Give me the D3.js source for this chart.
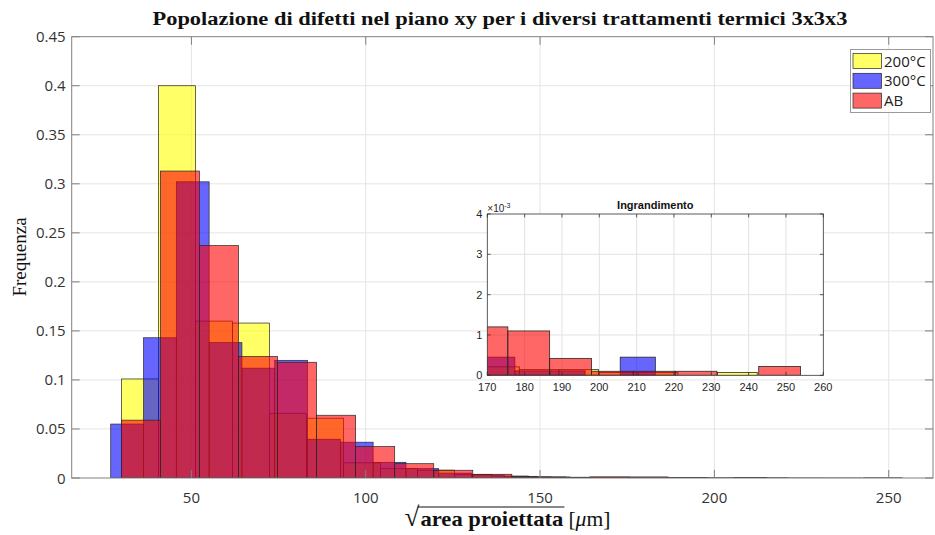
<!DOCTYPE html>
<html><head><meta charset="utf-8">
<script src="https://cdn.jsdelivr.net/npm/d3@7"></script>
<style>body{margin:0;background:#fff;} svg{display:block;}</style>
</head><body><svg id="c" width="935" height="535"></svg>
<script>
// ---------------- DATA ----------------
const titleText = "Popolazione di difetti nel piano xy per i diversi trattamenti termici 3x3x3";
const yLabelText = "Frequenza";
const insetTitle = "Ingrandimento";
const seriesNames = ["200°C", "300°C", "AB"];
const seriesColors = ["#ffff00", "#0000ff", "#ff0000"];
// histogram bins: first edge and bin width (µm) for each series
const yellowStart = 29.9, yellowWidth = 10.62;
const blueStart = 26.85, blueWidth = 9.408;
const redStart = 29.9, redWidth = 11.2;
// probability of each bin
const yellowValues = [0.101, 0.400, 0.160, 0.158, 0.066, 0.061, 0.0155, 0.0095, 0.008, 0.0035,
  0.002, 0.001, 0.0005, 0.00021, 0.00014, 0.00014, 0.00007, 0.00007, 0, 0.00007];
const blueValues = [0.055, 0.143, 0.302, 0.138, 0.112, 0.120, 0.0395, 0.0365, 0.016, 0.0095,
  0.005, 0.003, 0.0017, 0.001, 0.0006, 0.00045, 0.00011, 0.00011, 0, 0.00045];
const redValues = [0.059, 0.313, 0.237, 0.124, 0.118, 0.064, 0.032, 0.0146, 0.0079, 0.0038,
  0.0011, 0.0008, 0.0012, 0.0011, 0.00042, 0.0001, 0.0001, 0.0001, 0, 0.00022];
const xTicks = [50, 100, 150, 200, 250];
const yTicks = [0, 0.05, 0.1, 0.15, 0.2, 0.25, 0.3, 0.35, 0.4, 0.45];
const yTickLabels = ["0", "0.05", "0.1", "0.15", "0.2", "0.25", "0.3", "0.35", "0.4", "0.45"];
const insetXTicks = [170, 180, 190, 200, 210, 220, 230, 240, 250, 260];
const insetYTicks = [0, 0.001, 0.002, 0.003, 0.004];
const insetYTickLabels = ["0", "1", "2", "3", "4"];

// ---------------- CHART ----------------
const svg = d3.select("#c");
const serif = "'Liberation Serif','DejaVu Serif',serif";
const sans = "'Open Sans','Noto Sans',sans-serif";
const helv = "'Liberation Sans',Arial,sans-serif";

const series = [
  {start: yellowStart, width: yellowWidth, values: yellowValues, color: seriesColors[0]},
  {start: blueStart, width: blueWidth, values: blueValues, color: seriesColors[1]},
  {start: redStart, width: redWidth, values: redValues, color: seriesColors[2]}
];
function binsOf(s) {
  return s.values.map((v, i) => ({x0: s.start + i * s.width, x1: s.start + (i + 1) * s.width, v, color: s.color}))
    .filter(d => d.v > 0);
}

const L = 71.7, R = 933, T = 36.7, B = 478;
const x = d3.scaleLinear().domain([15.66, 262.7]).range([L, R]);
const y = d3.scaleLinear().domain([0, 0.45]).range([B, T]);

// grid
const grid = svg.append("g").attr("stroke", "#e4e4e4").attr("stroke-width", 1);
grid.selectAll(".gx").data(xTicks).join("line")
  .attr("x1", d => x(d)).attr("x2", d => x(d)).attr("y1", T).attr("y2", B);
grid.selectAll(".gy").data(yTicks.slice(1, -1)).join("line")
  .attr("y1", d => y(d)).attr("y2", d => y(d)).attr("x1", L).attr("x2", R);

// bars
svg.append("clipPath").attr("id", "mainclip").append("rect")
  .attr("x", L).attr("y", T).attr("width", R - L).attr("height", B - T);
const barsG = svg.append("g").attr("clip-path", "url(#mainclip)");
series.forEach(s => {
  barsG.append("g").selectAll("rect").data(binsOf(s)).join("rect")
    .attr("x", d => x(d.x0)).attr("width", d => x(d.x1) - x(d.x0))
    .attr("y", d => y(d.v)).attr("height", d => y(0) - y(d.v))
    .attr("fill", d => d.color).attr("fill-opacity", 0.6)
    .attr("stroke", "#262626").attr("stroke-width", 0.7);
});

// axes box + ticks
const axisColor = "#808080";
svg.append("rect").attr("x", L).attr("y", T).attr("width", R - L).attr("height", B - T)
  .attr("fill", "none").attr("stroke", axisColor).attr("stroke-width", 1);
const tk = svg.append("g").attr("stroke", axisColor).attr("stroke-width", 1);
tk.selectAll(".tb").data(xTicks).join("line").attr("x1", d => x(d)).attr("x2", d => x(d)).attr("y1", B).attr("y2", B - 8);
tk.selectAll(".tt").data(xTicks).join("line").attr("x1", d => x(d)).attr("x2", d => x(d)).attr("y1", T).attr("y2", T + 8);
tk.selectAll(".tl").data(yTicks).join("line").attr("y1", d => y(d)).attr("y2", d => y(d)).attr("x1", L).attr("x2", L + 8);
tk.selectAll(".tr").data(yTicks).join("line").attr("y1", d => y(d)).attr("y2", d => y(d)).attr("x1", R).attr("x2", R - 8);

svg.append("g").selectAll("text").data(xTicks).join("text")
  .attr("x", d => x(d)).attr("y", 503).attr("text-anchor", "middle")
  .attr("font-family", sans).attr("font-size", 15).attr("fill", "#333").text(d => d);
svg.append("g").selectAll("text").data(yTicks).join("text")
  .attr("x", L - 6).attr("y", d => y(d) + 5.5).attr("text-anchor", "end")
  .attr("font-family", sans).attr("font-size", 15).attr("fill", "#333")
  .text((d, i) => yTickLabels[i]);

// title
svg.append("text").attr("x", 500).attr("y", 25).attr("text-anchor", "middle")
  .attr("font-family", serif).attr("font-weight", "bold").attr("font-size", 18)
  .attr("textLength", 695).attr("lengthAdjust", "spacingAndGlyphs")
  .attr("fill", "#111").text(titleText);

// y label
svg.append("text").attr("transform", "translate(26,257) rotate(-90)").attr("text-anchor", "middle")
  .attr("font-family", serif).attr("font-size", 19).attr("fill", "#111").text(yLabelText);

// x label: sqrt(area proiettata) [μm]
const xl = svg.append("g").attr("fill", "#111");
const base = 526;
const tS = xl.append("text").attr("y", base).attr("font-family", serif).attr("font-size", 27).text("√");
const tM = xl.append("text").attr("y", base).attr("font-family", serif).attr("font-size", 21).attr("font-weight", "bold")
  .attr("textLength", 143).attr("lengthAdjust", "spacingAndGlyphs").text("area proiettata");
const tU = xl.append("text").attr("y", base).attr("font-family", serif).attr("font-size", 21)
  .attr("textLength", 42).attr("lengthAdjust", "spacingAndGlyphs");
tU.append("tspan").text("[");
tU.append("tspan").attr("font-style", "italic").text("μ");
tU.append("tspan").text("m]");
const w1 = tS.node().getComputedTextLength(), w2 = 143, w3 = 42, gap = 5;
const x0 = 507 - (w1 + w2 + gap + w3) / 2;
tS.attr("x", x0); tM.attr("x", x0 + w1 + 1); tU.attr("x", x0 + w1 + 1 + w2 + gap);
xl.append("line").attr("x1", x0 + w1 - 1.5).attr("x2", x0 + w1 + w2 + 2).attr("y1", base - 19).attr("y2", base - 19)
  .attr("stroke", "#111").attr("stroke-width", 1);

// legend
const lg = svg.append("g");
lg.append("rect").attr("x", 850.5).attr("y", 49.5).attr("width", 80).attr("height", 63)
  .attr("fill", "#fff").attr("stroke", "#9a9a9a").attr("stroke-width", 1);
seriesNames.forEach((n, i) => {
  const yy = 53.5 + i * 19.8;
  lg.append("rect").attr("x", 853).attr("y", yy).attr("width", 28.5).attr("height", 15)
    .attr("fill", seriesColors[i]).attr("fill-opacity", 0.6).attr("stroke", "#262626").attr("stroke-width", 0.7);
  lg.append("text").attr("x", 884).attr("y", yy + 13).attr("font-family", sans).attr("font-size", 15)
    .attr("fill", "#222").text(n);
});

// ---------------- INSET ----------------
const iL = 487.3, iR = 823.3, iT = 214, iB = 375.3;
const ix = d3.scaleLinear().domain([170, 260]).range([iL, iR]);
const iy = d3.scaleLinear().domain([0, 0.004]).range([iB, iT]);
const ins = svg.append("g");
ins.append("rect").attr("x", iL).attr("y", iT).attr("width", iR - iL).attr("height", iB - iT).attr("fill", "#fff");
const ig = ins.append("g").attr("stroke", "#e2e2e2").attr("stroke-width", 1);
ig.selectAll(".a").data(insetXTicks.slice(1, -1)).join("line").attr("x1", d => ix(d)).attr("x2", d => ix(d)).attr("y1", iT).attr("y2", iB);
ig.selectAll(".b").data(insetYTicks.slice(1, -1)).join("line").attr("y1", d => iy(d)).attr("y2", d => iy(d)).attr("x1", iL).attr("x2", iR);
svg.append("clipPath").attr("id", "insclip").append("rect").attr("x", iL).attr("y", iT).attr("width", iR - iL).attr("height", iB - iT);
const ib = ins.append("g").attr("clip-path", "url(#insclip)");
series.forEach(s => {
  ib.append("g").selectAll("rect").data(binsOf(s)).join("rect")
    .attr("x", d => ix(d.x0)).attr("width", d => ix(d.x1) - ix(d.x0))
    .attr("y", d => iy(d.v)).attr("height", d => iy(0) - iy(d.v))
    .attr("fill", d => d.color).attr("fill-opacity", 0.6)
    .attr("stroke", "#262626").attr("stroke-width", 0.8);
});
ins.append("rect").attr("x", iL).attr("y", iT).attr("width", iR - iL).attr("height", iB - iT)
  .attr("fill", "none").attr("stroke", "#333").attr("stroke-width", 0.8);
const itk = ins.append("g").attr("stroke", "#333").attr("stroke-width", 0.8);
itk.selectAll(".c").data(insetXTicks).join("line").attr("x1", d => ix(d)).attr("x2", d => ix(d)).attr("y1", iB).attr("y2", iB - 3.4);
itk.selectAll(".d").data(insetXTicks).join("line").attr("x1", d => ix(d)).attr("x2", d => ix(d)).attr("y1", iT).attr("y2", iT + 3.4);
itk.selectAll(".e").data(insetYTicks).join("line").attr("y1", d => iy(d)).attr("y2", d => iy(d)).attr("x1", iL).attr("x2", iL + 3.4);
itk.selectAll(".f").data(insetYTicks).join("line").attr("y1", d => iy(d)).attr("y2", d => iy(d)).attr("x1", iR).attr("x2", iR - 3.4);
ins.append("g").selectAll("text").data(insetXTicks).join("text")
  .attr("x", d => ix(d)).attr("y", iB + 16).attr("text-anchor", "middle")
  .attr("font-family", helv).attr("font-size", 11).attr("fill", "#262626").text(d => d);
ins.append("g").selectAll("text").data(insetYTicks).join("text")
  .attr("x", iL - 5).attr("y", d => iy(d) + 4).attr("text-anchor", "end")
  .attr("font-family", helv).attr("font-size", 11).attr("fill", "#262626").text((d, i) => insetYTickLabels[i]);
const ex = ins.append("text").attr("x", iL).attr("y", iT - 2).attr("font-family", helv).attr("font-size", 10).attr("fill", "#262626");
ex.append("tspan").text("×10");
ex.append("tspan").attr("dy", -4).attr("font-size", 7).text("-3");
ins.append("text").attr("x", (iL + iR) / 2).attr("y", iT - 5).attr("text-anchor", "middle")
  .attr("font-family", helv).attr("font-weight", "bold").attr("font-size", 11).attr("fill", "#111").text(insetTitle);
</script>
</body></html>
